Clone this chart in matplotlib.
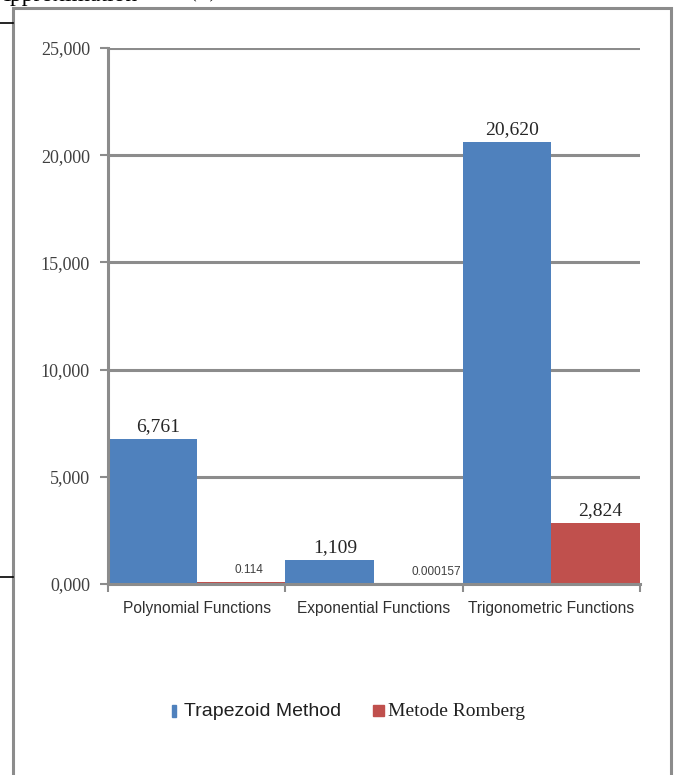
import matplotlib
matplotlib.use("Agg")
import matplotlib.pyplot as plt
from matplotlib.patches import Rectangle
from matplotlib.lines import Line2D
from matplotlib.ticker import FuncFormatter, FixedLocator

categories = ["Polynomial Functions", "Exponential Functions", "Trigonometric Functions"]
trapezoid = [6.761, 1.109, 20.620]
romberg = [0.114, 0.000157, 2.824]
series_names = ["Trapezoid Method", "Metode Romberg"]
y_ticks = [0, 5, 10, 15, 20, 25]

BLUE = "#4F81BD"
RED = "#C0504D"
GRID = "#8C8C8C"
TXT = "#404040"

W, H = 677, 775
fig = plt.figure(figsize=(W / 100, H / 100), dpi=100)

def fx(px):
    return px / W

def fy(py):
    return 1 - py / H

# plot area
ax = fig.add_axes([fx(108), fy(584), fx(640) - fx(108), fy(48) - fy(584)])

x = list(range(len(categories)))
bw = 0.5
ax.bar([i - bw / 2 for i in x], trapezoid, width=bw, color=BLUE, zorder=3)
ax.bar([i + bw / 2 for i in x], romberg, width=bw, color=RED, zorder=3)

ax.set_xlim(-0.5, len(categories) - 0.5)
ax.set_ylim(0, 25)
ax.set_yticks(y_ticks)
ax.yaxis.set_major_formatter(FuncFormatter(lambda v, p: f"{v:.3f}".replace(".", ",")))
ax.grid(axis="y", color=GRID, lw=2.2, zorder=1)
ax.set_axisbelow(True)

for s in ["top", "right"]:
    ax.spines[s].set_visible(False)
for s in ["left", "bottom"]:
    ax.spines[s].set_color(GRID)
    ax.spines[s].set_linewidth(2.2)
    ax.spines[s].set_zorder(4)

ax.tick_params(axis="y", length=6, width=1.5, color=GRID, pad=7, labelsize=13,
               labelcolor=TXT)
for t in ax.get_yticklabels():
    t.set_fontfamily("Liberation Serif")

ax.set_xticks(x)
ax.set_xticklabels(categories, fontsize=11.2, fontfamily="Liberation Sans", color="#303030")
ax.tick_params(axis="x", which="major", length=0, pad=12)
ax.xaxis.set_minor_locator(FixedLocator([i - 0.5 for i in range(len(categories) + 1)]))
ax.tick_params(axis="x", which="minor", length=6, width=1.5, color=GRID)

# value labels
for i, v in enumerate(trapezoid):
    ax.annotate(f"{v:.3f}".replace(".", ","), (i - bw / 2, v), xytext=(4, 3),
                textcoords="offset points", ha="center", va="bottom",
                fontsize=14, fontfamily="Liberation Serif", color="#262626", zorder=5)
for i, v in enumerate(romberg):
    if v >= 1:
        ax.annotate(f"{v:.3f}".replace(".", ","), (i + bw / 2, v), xytext=(3, 3),
                    textcoords="offset points", ha="center", va="bottom",
                    fontsize=14, fontfamily="Liberation Serif", color="#262626", zorder=5)
    else:
        ax.annotate(f"{v:g}" if v >= 0.001 else f"{v:.6f}", (i + bw / 2, v), xytext=(-5, 4),
                    textcoords="offset points", ha="left", va="bottom",
                    fontsize=8.5, fontfamily="Liberation Sans", color="#404040", zorder=5)

# legend
fig.patches.append(Rectangle((fx(172), fy(717)), fx(4), fy(705) - fy(717),
                             transform=fig.transFigure, color=BLUE))
fig.text(fx(184), fy(711), series_names[0], fontsize=14, fontfamily="Liberation Sans",
         color="#202020", va="center", ha="left")
fig.patches.append(Rectangle((fx(373), fy(716)), fx(11), fy(705) - fy(716),
                             transform=fig.transFigure, color=RED))
fig.text(fx(388), fy(711), series_names[1], fontsize=14, fontfamily="Liberation Serif",
         color="#202020", va="center", ha="left")

# chart frame
fig.patches.append(Rectangle((fx(13), fy(785)), fx(671) - fx(13), fy(8) - fy(785),
                             transform=fig.transFigure, fill=False, ec=GRID, lw=2.2,
                             zorder=0))

# surrounding page elements
fig.lines.append(Line2D([0, fx(13)], [fy(23), fy(23)], transform=fig.transFigure,
                        color="black", lw=1.2))
fig.lines.append(Line2D([0, fx(13)], [fy(577), fy(577)], transform=fig.transFigure,
                        color="black", lw=1.2))
fig.text(fx(-6), fy(1), "Approximation", fontsize=17, fontfamily="Liberation Serif",
         color="black", va="baseline", ha="left")
fig.text(fx(190), fy(-2), "(%)", fontsize=12, fontfamily="Liberation Serif",
         color="black", va="baseline", ha="left")

fig.savefig("out.png", dpi=100)
